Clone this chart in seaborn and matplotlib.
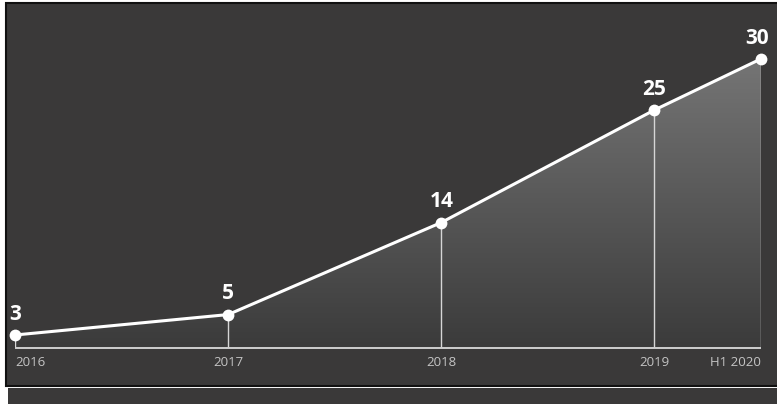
import numpy as np
import matplotlib
matplotlib.use("Agg")
import matplotlib.pyplot as plt
import seaborn as sns
from matplotlib.colors import LinearSegmentedColormap
from matplotlib.patches import Rectangle, Polygon

# ---- data ----
periods = ["2016", "2017", "2018", "2019", "H1 2020"]
period_x = [2016.0, 2017.0, 2018.0, 2019.0, 2019.5]
values = [3, 5, 14, 25, 30]

sns.set_theme(style="dark")
plt.rcParams['font.family'] = ['Open Sans', 'DejaVu Sans']

W, H = 777, 404
fig = plt.figure(figsize=(W / 100, H / 100), dpi=100, facecolor="white")
BG = "#3a3939"

# dark panel with black border
fig.add_artist(Rectangle((6 / W, (H - 386) / H), 1.0, (386 - 3) / H,
                         transform=fig.transFigure, facecolor=BG,
                         edgecolor="#111111", linewidth=1.5, zorder=-10))
# lower strip
fig.add_artist(Rectangle((8 / W, 0), 1.0, (H - 388) / H,
                         transform=fig.transFigure, facecolor=BG,
                         edgecolor="none", zorder=-10))

ax = fig.add_axes([15 / W, (H - 348) / H, (761 - 15) / W, (348 - 20) / H])
ax.set_zorder(5)
ax.set_facecolor("none")
ymin, ymax = 1.73, 33.8

# gradient fill under the line
cmap = LinearSegmentedColormap.from_list("g", ["#3b3b3b", "#757575"])
grad = np.linspace(0, 1, 256).reshape(-1, 1)
im = ax.imshow(grad, extent=[period_x[0], period_x[-1], ymin, max(values)],
               origin="lower", cmap=cmap, aspect="auto", zorder=1)
verts = list(zip(period_x, values)) + [(period_x[-1], ymin), (period_x[0], ymin)]
poly = Polygon(verts, closed=True, transform=ax.transData, facecolor="none", edgecolor="none")
ax.add_patch(poly)
im.set_clip_path(poly)
ax.set_xlim(period_x[0], period_x[-1])
ax.set_ylim(ymin, ymax)

# vertical drop lines and baseline
ax.vlines(period_x, ymin, values, color="#d6d6d6", lw=1.0, zorder=3)
ax.hlines(ymin, period_x[0], period_x[-1], color="#cfcfcf", lw=1.4, zorder=3, clip_on=False)

# main line
sns.lineplot(x=period_x, y=values, ax=ax, color="white", lw=2.2, marker="o",
             markersize=8.5, markeredgewidth=0, zorder=5, clip_on=False)

# value labels
for i, (x, v) in enumerate(zip(period_x, values)):
    dx = -3 if i == len(values) - 1 else 0
    ax.annotate(str(v), (x, v), xytext=(dx, 11), textcoords="offset points",
                ha="center", va="baseline", color="white", fontsize=15,
                fontweight="bold", zorder=6, annotation_clip=False)

# x tick labels
ax.set_xticks(period_x)
ax.set_xticklabels(periods, color="#c4c4c4", fontsize=9.5)
ax.tick_params(axis="x", length=0, pad=5.5)
ax.set_yticks([])
labels = ax.get_xticklabels()
labels[0].set_ha("left")
labels[-1].set_ha("right")
for s in ax.spines.values():
    s.set_visible(False)
ax.grid(False)
ax.set_xlabel("")
ax.set_ylabel("")

fig.savefig("out.png", dpi=100, facecolor=fig.get_facecolor())
